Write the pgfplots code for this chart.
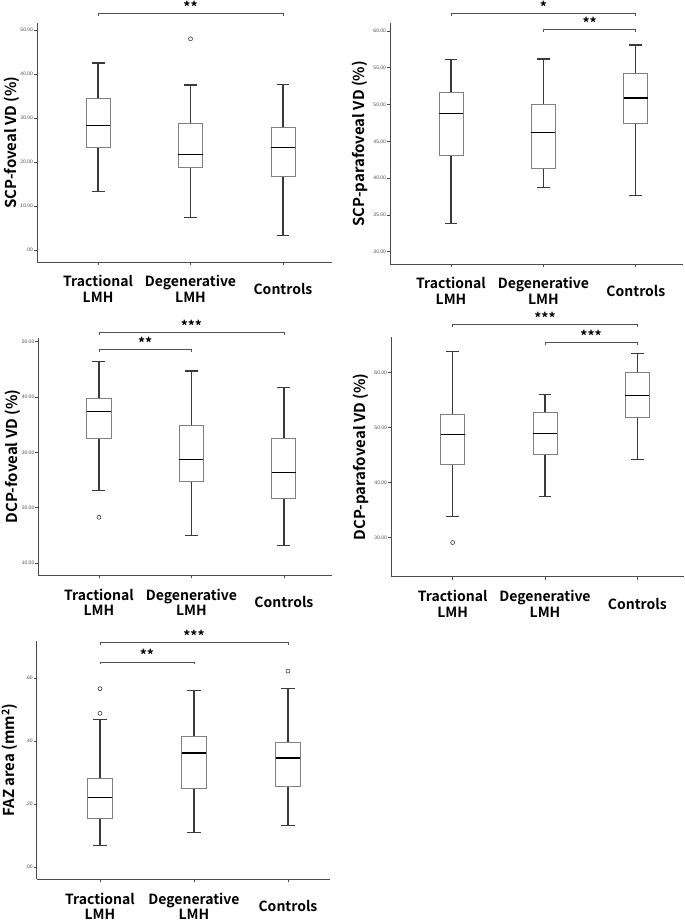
\documentclass[border=0pt]{standalone}
\usepackage{fontspec}
\setmainfont{Liberation Sans}
\newfontfamily\lab{Noto Sans CJK KR}[BoldFont={Noto Sans CJK KR Bold}]
\usepackage{pgfplots}
\pgfplotsset{compat=1.18}
\usepgfplotslibrary{statistics}
\definecolor{boxc}{HTML}{808080}
\definecolor{whk}{HTML}{3A3A3A}
\definecolor{axc}{HTML}{4A4A4A}
\definecolor{tkc}{HTML}{4A4A4A}
\definecolor{brkc}{HTML}{505050}
\pgfplotsset{
  panel/.style={
    scale only axis, anchor=south west, clip=false,
    axis x line*=bottom, axis y line*=left,
    axis line style={axc, line width=0.9pt},
    tick align=outside, major tick length=3pt,
    every tick/.style={axc, line width=0.8pt},
    xtick={0,1,2},
    xticklabels={Tractional\\LMH, Degenerative\\LMH, Controls},
    x tick label style={font=\lab\bfseries\fontsize{14}{15.6}\selectfont, align=center, text=black, anchor=center, yshift=-24pt},
    y tick label style={font=\fontsize{5}{6}\selectfont, text=tkc, inner sep=0.8pt},
    ylabel style={font=\lab\bfseries\fontsize{15}{16}\selectfont, anchor=center, text=black},
    boxplot/draw direction=y,
    boxplot/box extend=0.26,
    boxplot/whisker extend=0.14,
    boxplot/every box/.style={draw=boxc, fill=white, line width=0.9pt},
    boxplot/every whisker/.style={draw=whk, line width=1.2pt},
    boxplot/every median/.style={draw=black, line width=1.7pt},
  },
  outl/.style={mark=o, mark size=2pt, mark options={draw=whk, line width=0.6pt, fill=white}},
}
\tikzset{
  bracket/.style={draw=brkc, line width=0.8pt},
  sig/.style={anchor=base, font=\lab\bfseries\fontsize{14}{14}\selectfont, inner sep=0pt, yshift=1pt},
}
\begin{document}
\begin{tikzpicture}
\path[use as bounding box] (0,0) rectangle (685pt,922pt);

% Panel 1: SCP-foveal
\begin{axis}[panel, at={(37pt,660pt)}, width=295pt, height=239pt,
  xmin=-0.66, xmax=2.53, ymin=-2.73, ymax=51.6,
  ytick={0,10,20,30,40,50}, yticklabels={.00,10.00,20.00,30.00,40.00,50.00},
  ylabel={SCP-foveal VD (\%)}, ylabel style={at={(axis description cs:-0.085,0.5)}}]
\addplot[boxplot prepared={draw position=0, lower whisker=13.3, lower quartile=23.3, median=28.3, upper quartile=34.4, upper whisker=42.5}] coordinates {};
\addplot[boxplot prepared={draw position=1, lower whisker=7.3, lower quartile=18.8, median=21.7, upper quartile=28.7, upper whisker=37.5}, outl] table[row sep=\\, y index=0] {y\\ 48.0\\};
\addplot[boxplot prepared={draw position=2, lower whisker=3.3, lower quartile=16.8, median=23.3, upper quartile=27.9, upper whisker=37.7}] coordinates {};
\draw[bracket] (axis cs:0,53.2) -- (axis cs:0,53.8) -- (axis cs:2,53.8) -- (axis cs:2,53.2);
\node[sig] at (axis cs:1,53.8) {**};
\end{axis}

% Panel 2: SCP-parafoveal
\begin{axis}[panel, at={(390pt,658pt)}, width=293pt, height=240.7pt,
  xmin=-0.66, xmax=2.51, ymin=28.33, ymax=61.05,
  ytick={30,35,40,45,50,55,60}, yticklabels={30.00,35.00,40.00,45.00,50.00,55.00,60.00},
  ylabel={SCP-parafoveal VD (\%)}, ylabel style={at={(axis description cs:-0.102,0.5)}}]
\addplot[boxplot prepared={draw position=0, lower whisker=33.8, lower quartile=43.1, median=48.8, upper quartile=51.6, upper whisker=56.1}] coordinates {};
\addplot[boxplot prepared={draw position=1, lower whisker=38.7, lower quartile=41.3, median=46.2, upper quartile=50.0, upper whisker=56.2}] coordinates {};
\addplot[boxplot prepared={draw position=2, lower whisker=37.6, lower quartile=47.5, median=50.9, upper quartile=54.25, upper whisker=58.1}] coordinates {};
\draw[bracket] (axis cs:0,62.06) -- (axis cs:0,62.4) -- (axis cs:2,62.4) -- (axis cs:2,62.06);
\node[sig] at (axis cs:1,62.4) {*};
\draw[bracket] (axis cs:1,59.89) -- (axis cs:1,60.23) -- (axis cs:2,60.23) -- (axis cs:2,59.89);
\node[sig] at (axis cs:1.5,60.23) {**};
\end{axis}

% Panel 3: DCP-foveal
\begin{axis}[panel, at={(38.3pt,346.7pt)}, width=293.7pt, height=237.6pt,
  xmin=-0.656, xmax=2.52, ymin=7.83, ymax=50.7,
  ytick={10,20,30,40,50}, yticklabels={10.00,20.00,30.00,40.00,50.00},
  ylabel={DCP-foveal VD (\%)}, ylabel style={at={(axis description cs:-0.088,0.5)}}]
\addplot[boxplot prepared={draw position=0, lower whisker=23.1, lower quartile=32.6, median=37.4, upper quartile=39.8, upper whisker=46.4}, outl] table[row sep=\\, y index=0] {y\\ 18.3\\};
\addplot[boxplot prepared={draw position=1, lower whisker=15.0, lower quartile=24.7, median=28.7, upper quartile=34.9, upper whisker=44.7}] coordinates {};
\addplot[boxplot prepared={draw position=2, lower whisker=13.2, lower quartile=21.7, median=26.4, upper quartile=32.6, upper whisker=41.7}] coordinates {};
\draw[bracket] (axis cs:0,51.25) -- (axis cs:0,51.7) -- (axis cs:2,51.7) -- (axis cs:2,51.25);
\node[sig] at (axis cs:1,51.7) {***};
\draw[bracket] (axis cs:0,48.05) -- (axis cs:0,48.5) -- (axis cs:1,48.5) -- (axis cs:1,48.05);
\node[sig] at (axis cs:0.5,48.5) {**};
\end{axis}

% Panel 4: DCP-parafoveal
\begin{axis}[panel, at={(391pt,345.3pt)}, width=293pt, height=239.4pt,
  xmin=-0.668, xmax=2.506, ymin=22.9, ymax=66.35,
  ytick={30,40,50,60}, yticklabels={30.00,40.00,50.00,60.00},
  ylabel={DCP-parafoveal VD (\%)}, ylabel style={at={(axis description cs:-0.102,0.5)}}]
\addplot[boxplot prepared={draw position=0, lower whisker=33.8, lower quartile=43.3, median=48.7, upper quartile=52.4, upper whisker=63.75}, outl] table[row sep=\\, y index=0] {y\\ 29.1\\};
\addplot[boxplot prepared={draw position=1, lower whisker=37.5, lower quartile=45.1, median=48.9, upper quartile=52.7, upper whisker=55.9}] coordinates {};
\addplot[boxplot prepared={draw position=2, lower whisker=44.2, lower quartile=51.8, median=55.8, upper quartile=59.9, upper whisker=63.4}] coordinates {};
\draw[bracket] (axis cs:0,68.25) -- (axis cs:0,68.7) -- (axis cs:2,68.7) -- (axis cs:2,68.25);
\node[sig] at (axis cs:1,68.7) {***};
\draw[bracket] (axis cs:1,65.0) -- (axis cs:1,65.45) -- (axis cs:2,65.45) -- (axis cs:2,65.0);
\node[sig] at (axis cs:1.5,65.45) {***};
\end{axis}

% Panel 5: FAZ area
\begin{axis}[panel, at={(36.7pt,42.7pt)}, width=293.3pt, height=238.6pt,
  xmin=-0.673, xmax=2.447, ymin=-0.039, ymax=0.7185,
  ytick={0,0.2,0.4,0.6}, yticklabels={.00,.20,.40,.60},
  ylabel={FAZ area (mm\textsuperscript{2})}, ylabel style={at={(axis description cs:-0.092,0.5)}}]
\addplot[boxplot prepared={draw position=0, lower whisker=0.069, lower quartile=0.153, median=0.221, upper quartile=0.280, upper whisker=0.468}, outl] table[row sep=\\, y index=0] {y\\ 0.488\\ 0.566\\};
\addplot[boxplot prepared={draw position=1, lower whisker=0.109, lower quartile=0.250, median=0.363, upper quartile=0.416, upper whisker=0.561}] coordinates {};
\addplot[boxplot prepared={draw position=2, lower whisker=0.133, lower quartile=0.257, median=0.347, upper quartile=0.394, upper whisker=0.568}, outl] table[row sep=\\, y index=0] {y\\ 0.622\\};
\draw[bracket] (axis cs:0,0.704) -- (axis cs:0,0.712) -- (axis cs:2,0.712) -- (axis cs:2,0.704);
\node[sig] at (axis cs:1,0.712) {***};
\draw[bracket] (axis cs:0,0.643) -- (axis cs:0,0.651) -- (axis cs:1,0.651) -- (axis cs:1,0.643);
\node[sig] at (axis cs:0.5,0.651) {**};
\end{axis}
\end{tikzpicture}
\end{document}
